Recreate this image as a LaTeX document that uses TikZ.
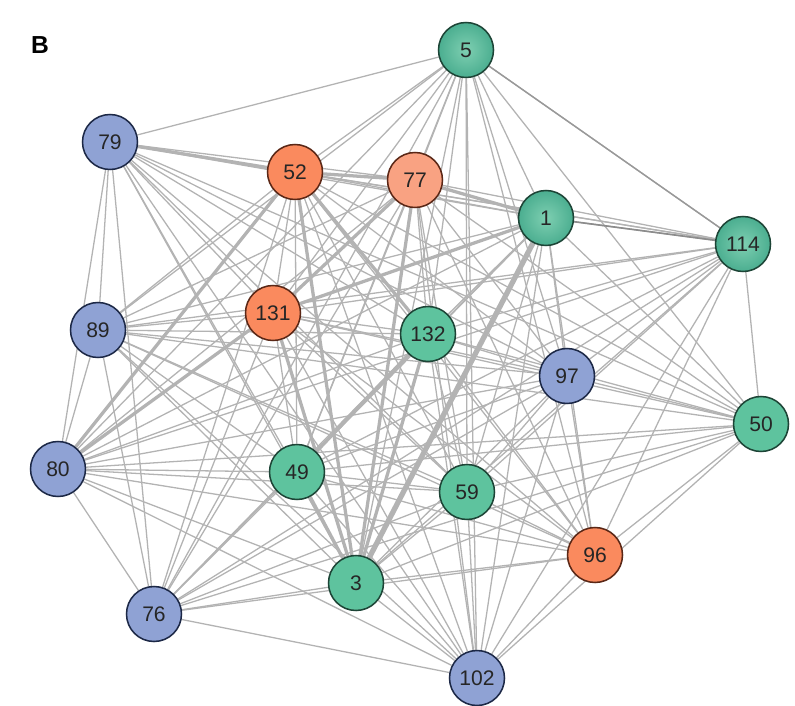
\documentclass[tikz,border=0pt]{standalone}
\usepackage{fontspec}
\setmainfont{Liberation Sans}
\usetikzlibrary{backgrounds}

\definecolor{vblue}{HTML}{8FA2D4}
\definecolor{vblueline}{HTML}{1C2846}
\definecolor{vorange}{HTML}{FA8A5E}
\definecolor{vpeach}{HTML}{F9A282}
\definecolor{vorangeline}{HTML}{5A2716}
\definecolor{vgreen}{HTML}{5EC39E}
\definecolor{vteal}{HTML}{4BAE90}
\definecolor{vgreenline}{HTML}{1D4436}
\definecolor{edgegray}{HTML}{B3B3B3}

\begin{document}
\begin{tikzpicture}[
    x=0.03cm, y=-0.03cm,
    vtx/.style={circle, draw, line width=1.3pt, minimum size=1.65cm, inner sep=0pt,
                text=black!85, font=\fontsize{18}{18}\selectfont},
    bluevtx/.style={vtx, fill=vblue, draw=vblueline},
    orangevtx/.style={vtx, fill=vorange, draw=vorangeline},
    peachvtx/.style={vtx, fill=vpeach, draw=vorangeline},
    greenvtx/.style={vtx, fill=vgreen, draw=vgreenline},
    tealvtx/.style={vtx, inner color=vgreen!80, outer color=vteal, draw=vgreenline},
    edge/.style={draw=edgegray, line width=1.1pt},
    heavy/.style={draw=edgegray, line width=2.8pt},
    heavier/.style={draw=edgegray, line width=4.5pt}
]
\useasboundingbox (0,0) rectangle (795,705);

\node[font=\fontsize{21}{21}\selectfont\bfseries] (panel) at (40,45) {B};

% vertices
\node[tealvtx]   (n5)   at (466,50)  {5};
\node[bluevtx]   (n79)  at (110,142) {79};
\node[orangevtx] (n52)  at (295,172) {52};
\node[peachvtx]  (n77)  at (415,180) {77};
\node[tealvtx]   (n1)   at (546,218) {1};
\node[tealvtx]   (n114) at (743,244) {114};
\node[bluevtx]   (n89)  at (98,330)  {89};
\node[orangevtx] (n131) at (273,313) {131};
\node[greenvtx]  (n132) at (428,334) {132};
\node[bluevtx]   (n97)  at (567,376) {97};
\node[greenvtx]  (n50)  at (761,424) {50};
\node[bluevtx]   (n80)  at (58,469)  {80};
\node[greenvtx]  (n49)  at (297,472) {49};
\node[greenvtx]  (n59)  at (467,492) {59};
\node[orangevtx] (n96)  at (595,555) {96};
\node[greenvtx]  (n3)   at (356,583) {3};
\node[bluevtx]   (n76)  at (154,614) {76};
\node[bluevtx]   (n102) at (477,678) {102};

% edges behind the vertices
\begin{pgfonlayer}{background}
\foreach \a [count=\i] in {n5,n79,n52,n77,n1,n114,n89,n131,n132,n97,n50,n80,n49,n59,n96,n3,n76,n102}{
  \foreach \b [count=\j] in {n5,n79,n52,n77,n1,n114,n89,n131,n132,n97,n50,n80,n49,n59,n96,n3,n76,n102}{
    \ifnum\j>\i \draw[edge] (\a) -- (\b); \fi
  }
}
\foreach \a/\b in {n52/n77, n77/n1, n131/n77, n80/n52, n79/n52, n49/n132, n3/n132, n3/n77,
                   n3/n52, n3/n49, n3/n131, n80/n131, n52/n132, n131/n1}
  \draw[heavy] (\a) -- (\b);
\draw[heavier] (n3) -- (n1);
\draw[draw=black!45, line width=1.4pt] (n1) -- (n114);
\draw[draw=black!40, line width=1.2pt] (n5) -- (n114);
\end{pgfonlayer}
\end{tikzpicture}
\end{document}
